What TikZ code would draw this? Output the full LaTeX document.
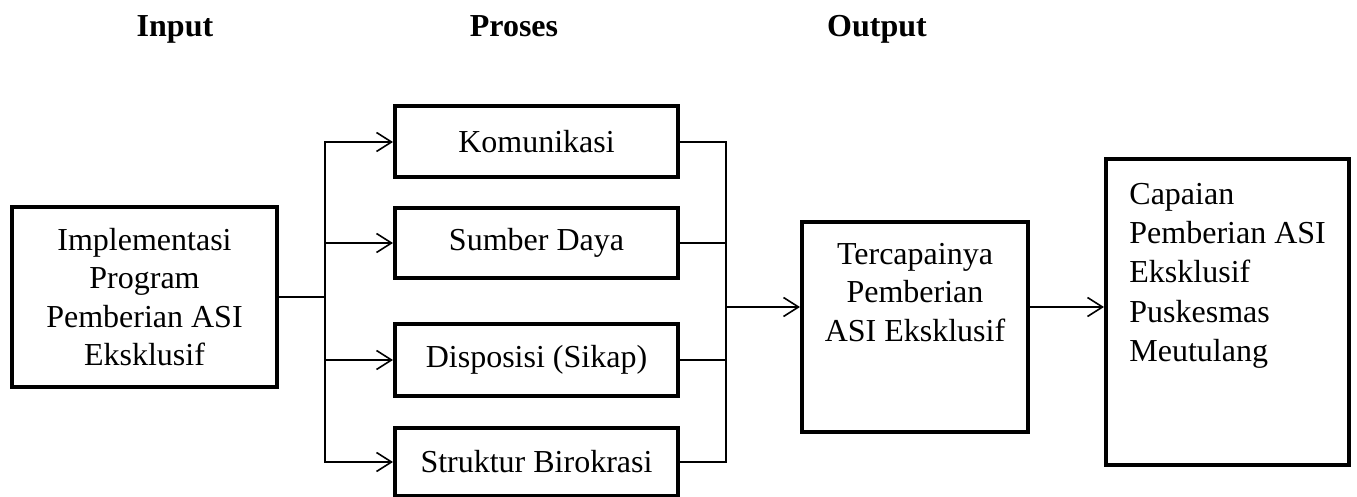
\documentclass[tikz,border=0pt]{standalone}
\usepackage{fontspec}
\setmainfont{Liberation Serif}
\usetikzlibrary{arrows.meta}
\begin{document}
\begin{tikzpicture}[x=0.5pt,y=-0.5pt,
  box/.style={draw, line width=2pt, inner sep=0pt},
  conn/.style={line width=0.8pt},
  arr/.style={conn, -{Straight Barb[length=7.5pt,width=9.5pt,line width=0.8pt]}},
  txt/.style={font=\fontsize{16}{19.2}\selectfont, align=center},
  head/.style={font=\fontsize{16}{19.2}\selectfont\bfseries, anchor=base}]
\useasboundingbox (0,0) rectangle (1357,497);
\node[head] (hin) at (175,37) {Input};
\node[head] (hpr) at (514,37) {Proses};
\node[head] (hout) at (877,37) {Output};

\node[box,txt,minimum width=132.5pt,minimum height=90pt] (inp) at (144.5,297) {Implementasi\\Program\\Pemberian ASI\\Eksklusif};

\node[box,txt,minimum width=141.5pt,minimum height=35.5pt] (kom) at (536.5,142) {Komunikasi};
\node[box,txt,minimum width=141.5pt,minimum height=35pt] (sd) at (536.5,243) {Sumber Daya};
\node[box,txt,minimum width=141.5pt,minimum height=36pt] (disp) at (536.5,360) {Disposisi (Sikap)};
\node[box,txt,minimum width=141.5pt,minimum height=34pt] (str) at (536.5,462) {Struktur Birokrasi};

\node[box,minimum width=113pt,minimum height=105pt] (terc) at (915,327) {};
\node[txt,anchor=north,inner sep=0pt] (tercT) at (915,243) {Tercapainya\\Pemberian\\ASI Eksklusif};

\node[box,minimum width=121.5pt,minimum height=153pt] (cap) at (1227.5,312) {};
\node[txt,align=left,anchor=north west,inner sep=0pt,font=\fontsize{16}{19.6}\selectfont] (capT) at (1129,183) {Capaian\\Pemberian ASI\\Eksklusif\\Puskesmas\\Meutulang};

\coordinate (busL) at (325,297);
\draw[conn] (inp.east) -- (busL);
\draw[arr] (busL) |- (kom.west);
\draw[arr] (busL) |- (sd.west);
\draw[arr] (busL) |- (disp.west);
\draw[arr] (busL) |- (str.west);

\coordinate (busR) at (726,307);
\draw[conn] (kom.east) -| (busR);
\draw[conn] (sd.east) -| (busR);
\draw[conn] (disp.east) -| (busR);
\draw[conn] (str.east) -| (busR);
\draw[arr] (busR) -- (busR -| terc.west);
\draw[arr] (terc.east |- busR) -- (cap.west |- busR);
\end{tikzpicture}
\end{document}
